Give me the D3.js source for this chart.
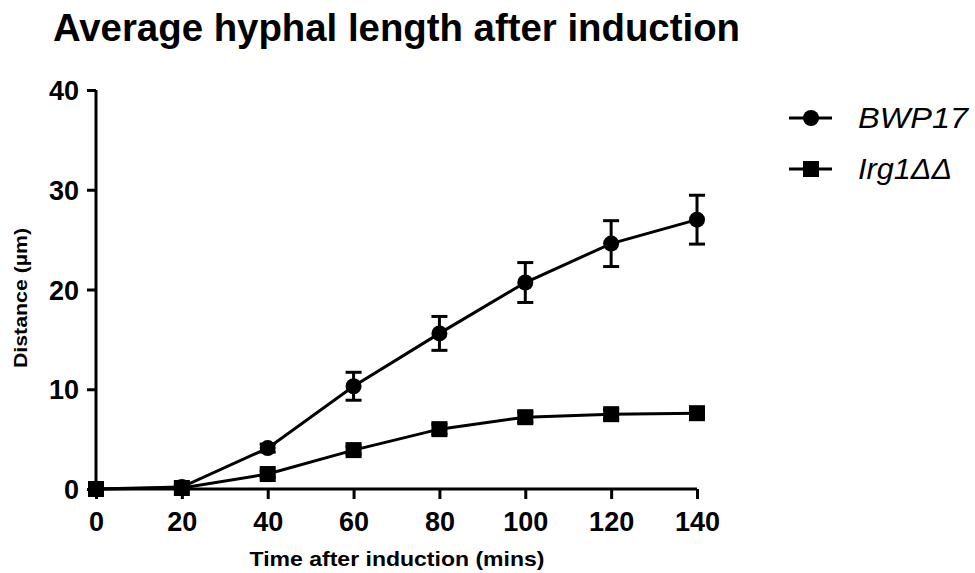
<!DOCTYPE html>
<html>
<head>
<meta charset="utf-8">
<script src="https://cdn.jsdelivr.net/npm/d3@7"></script>
<style>
  body { margin: 0; background: #fff; }
  text { font-family: "Liberation Sans", Arial, sans-serif; }
</style>
</head>
<body>
<div id="chart"></div>
<script>
// data
let times = [0, 20, 40, 60, 80, 100, 120, 140];
let bwpMean = [0, 0.2, 4.1, 10.3, 15.6, 20.7, 24.6, 27.0];
let bwpErr = [0, 0.2, 0.4, 1.4, 1.7, 2.0, 2.3, 2.45];
let irgMean = [0, 0.1, 1.5, 3.9, 6.0, 7.2, 7.5, 7.6];
let irgErr = [0, 0.1, 0.3, 0.4, 0.5, 0.5, 0.5, 0.5];
let xTicks = [0, 20, 40, 60, 80, 100, 120, 140];
let yTicks = [0, 10, 20, 30, 40];
let seriesNames = ["BWP17", "Irg1ΔΔ"];

let width = 975;
let height = 573;

let svg = d3.select("#chart")
            .append("svg")
            .attr("width", width)
            .attr("height", height)

let xScale = d3.scaleLinear().domain([0, 140]).range([96, 697])
let yScale = d3.scaleLinear().domain([0, 40]).range([489, 90])

// title
svg.append("text")
    .attr("x", 53)
    .attr("y", 41)
    .attr("font-size", 38)
    .attr("font-weight", "bold")
    .attr("textLength", 687)
    .attr("lengthAdjust", "spacingAndGlyphs")
    .text("Average hyphal length after induction")

// axes
let xAxis = d3.axisBottom(xScale).tickValues(xTicks).tickSize(10).tickPadding(13)
let yAxis = d3.axisLeft(yScale).tickValues(yTicks).tickSize(9).tickPadding(8)

let gx = svg.append("g").attr("class", "xAxis")
    .attr("transform", `translate(0, ${yScale(0)})`)
    .call(xAxis)
let gy = svg.append("g").attr("class", "yAxis")
    .attr("transform", `translate(${xScale(0)}, 0)`)
    .call(yAxis)

svg.selectAll(".domain").attr("stroke", "#000").attr("stroke-width", 3)
    .attr("d", function(){
        return d3.select(this.parentNode).classed("xAxis") ?
            `M${xScale(0)},0H${xScale(140)}` : `M0,${yScale(0)}V${yScale(40)}`
    })
svg.selectAll(".tick line").attr("stroke", "#000").attr("stroke-width", 3)
svg.selectAll(".tick text")
    .attr("fill", "#000")
    .attr("font-size", 27)
    .attr("font-weight", "bold")
    .attr("font-family", "Liberation Sans, Arial, sans-serif")
gy.selectAll(".tick text").attr("dy", "0.36em")

// axis titles
svg.append("text")
    .attr("x", 397)
    .attr("y", 566)
    .attr("text-anchor", "middle")
    .attr("font-size", 21)
    .attr("font-weight", "bold")
    .attr("textLength", 295)
    .attr("lengthAdjust", "spacingAndGlyphs")
    .text("Time after induction (mins)")

svg.append("text")
    .attr("transform", `translate(27, ${298})rotate(-90)`)
    .attr("text-anchor", "middle")
    .attr("font-size", 19)
    .attr("font-weight", "bold")
    .attr("textLength", 140)
    .attr("lengthAdjust", "spacingAndGlyphs")
    .text("Distance (\u00b5m)")

let series = [
    {name: seriesNames[0], mean: bwpMean, err: bwpErr, shape: "circle", textW: 110},
    {name: seriesNames[1], mean: irgMean, err: irgErr, shape: "square", textW: 94}
]

let line = d3.line()
    .x(function(d){ return xScale(d.t) })
    .y(function(d){ return yScale(d.v) })

series.forEach(function(s, si){
    let pts = times.map(function(t, i){ return {t: t, v: s.mean[i], e: s.err[i]} })
    let g = svg.append("g")

    g.append("path")
        .datum(pts)
        .attr("d", line)
        .attr("fill", "none")
        .attr("stroke", "#000")
        .attr("stroke-width", 3)

    // error bars
    let eb = g.selectAll(".err").data(pts.filter(function(d){ return d.e > 0 })).enter()
    eb.append("line")
        .attr("x1", function(d){ return xScale(d.t) })
        .attr("x2", function(d){ return xScale(d.t) })
        .attr("y1", function(d){ return yScale(d.v + d.e) })
        .attr("y2", function(d){ return yScale(d.v - d.e) })
        .attr("stroke", "#000").attr("stroke-width", 3)
    eb.append("line")
        .attr("x1", function(d){ return xScale(d.t) - 8 })
        .attr("x2", function(d){ return xScale(d.t) + 8 })
        .attr("y1", function(d){ return yScale(d.v + d.e) })
        .attr("y2", function(d){ return yScale(d.v + d.e) })
        .attr("stroke", "#000").attr("stroke-width", 3)
    eb.append("line")
        .attr("x1", function(d){ return xScale(d.t) - 8 })
        .attr("x2", function(d){ return xScale(d.t) + 8 })
        .attr("y1", function(d){ return yScale(d.v - d.e) })
        .attr("y2", function(d){ return yScale(d.v - d.e) })
        .attr("stroke", "#000").attr("stroke-width", 3)

    // markers
    if(s.shape === "circle"){
        g.selectAll(".pt").data(pts).enter().append("circle")
            .attr("cx", function(d){ return xScale(d.t) })
            .attr("cy", function(d){ return yScale(d.v) })
            .attr("r", 8)
            .attr("fill", "#000")
    } else {
        g.selectAll(".pt").data(pts).enter().append("rect")
            .attr("x", function(d){ return xScale(d.t) - 8 })
            .attr("y", function(d){ return yScale(d.v) - 8 })
            .attr("width", 16)
            .attr("height", 16)
            .attr("fill", "#000")
    }

    // legend
    let ly = 118 + si * 51
    let lg = svg.append("g")
    lg.append("line")
        .attr("x1", 789).attr("x2", 832)
        .attr("y1", ly).attr("y2", ly)
        .attr("stroke", "#000").attr("stroke-width", 3)
    if(s.shape === "circle"){
        lg.append("circle").attr("cx", 811).attr("cy", ly).attr("r", 8).attr("fill", "#000")
    } else {
        lg.append("rect").attr("x", 803).attr("y", ly - 8).attr("width", 16).attr("height", 16).attr("fill", "#000")
    }
    lg.append("text")
        .attr("x", 858)
        .attr("y", ly + 10)
        .attr("font-size", 29)
        .attr("font-style", "italic")
        .attr("textLength", s.textW)
        .attr("lengthAdjust", "spacingAndGlyphs")
        .text(s.name)
})
</script>
</body>
</html>
